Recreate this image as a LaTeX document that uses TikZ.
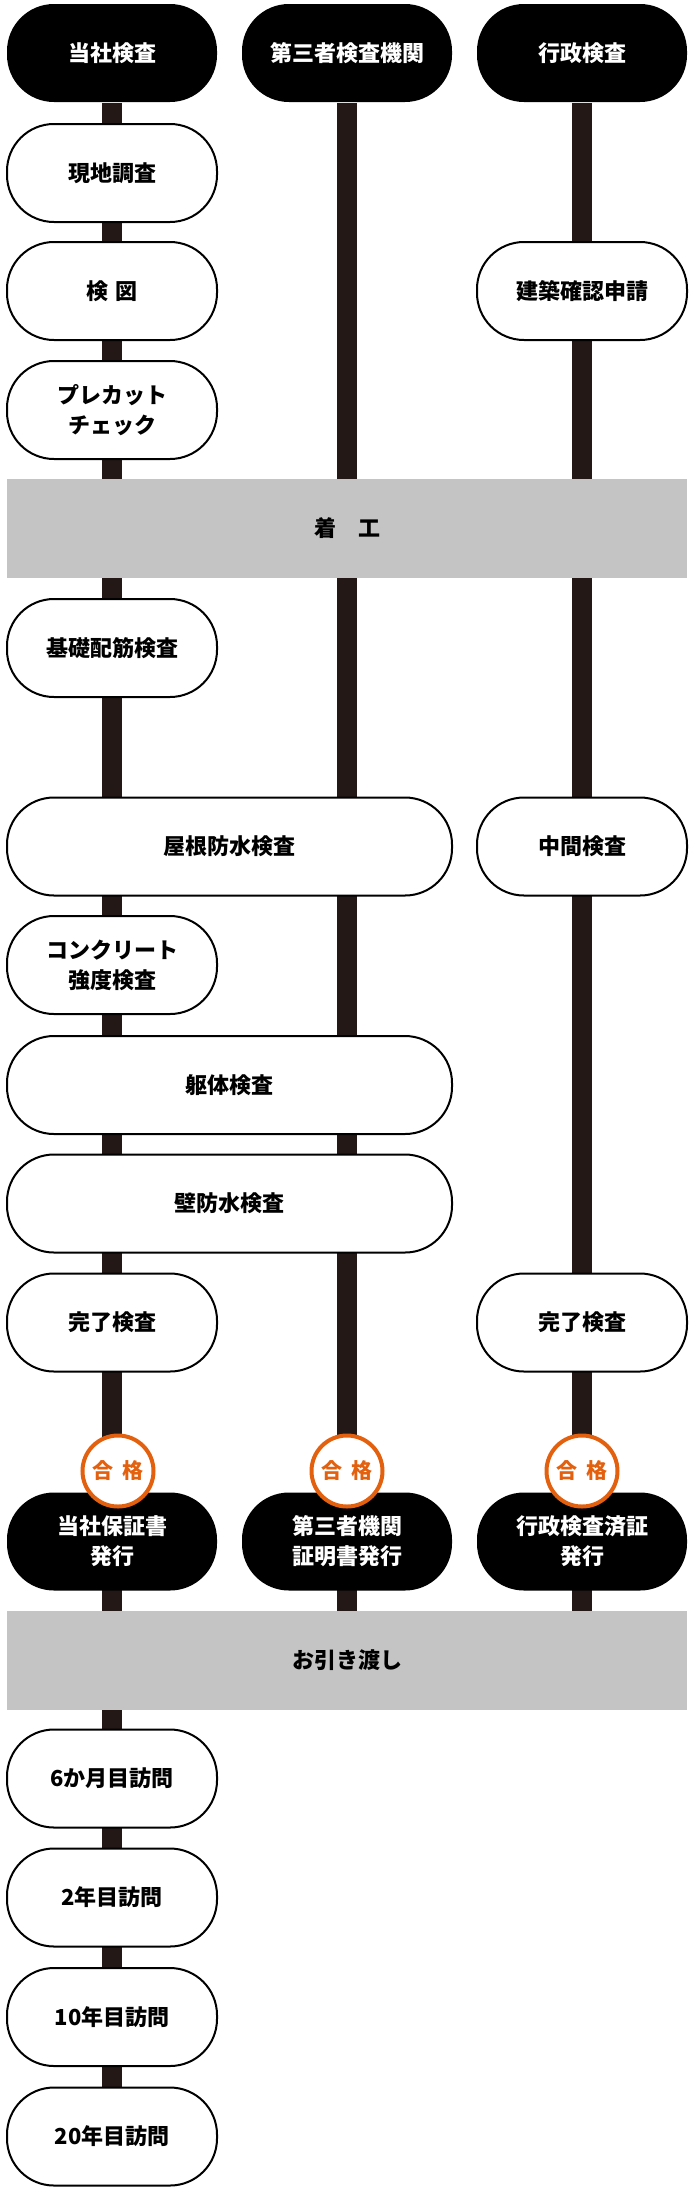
\documentclass[tikz,border=0pt]{standalone}
\usepackage{fontspec}
\setmainfont{Noto Sans CJK JP}
\usepackage{tikz}
\usetikzlibrary{backgrounds}
\definecolor{barbrown}{HTML}{231815}
\definecolor{passorange}{HTML}{E3600F}
\definecolor{bandgray}{HTML}{C4C4C4}
\tikzstyle{box}=[draw=black,line width=2pt,fill=white,rounded corners=47pt,
                minimum width=210pt,minimum height=98pt,inner sep=0pt,align=center,
                font=\fontsize{22}{30}\selectfont\bfseries]
\tikzstyle{wide box}=[box,minimum width=445pt]
\tikzstyle{head}=[box,draw=none,fill=black,text=white]
\tikzstyle{band}=[fill=bandgray,minimum width=680pt,minimum height=99pt,inner sep=0pt,
                font=\fontsize{22}{30}\selectfont\bfseries]
\tikzstyle{pass}=[circle,draw=passorange,line width=4pt,fill=white,text=passorange,
                minimum size=71pt,inner sep=0pt,font=\fontsize{21}{21}\selectfont\bfseries]
\tikzstyle{bar}=[line width=20pt,draw=barbrown]

\begin{document}
\begin{tikzpicture}[x=1pt,y=-1pt]
\useasboundingbox (0,0) rectangle (690,2190);
% heads
\node (h1) at (112,53)[head] {当社検査};
\node (h2) at (347,53)[head] {第三者検査機関};
\node (h3) at (582,53)[head] {行政検査};
% before construction
\node (survey) at (112,173)[box] {現地調査};
\node (drawing) at (112,291)[box] {検\hspace{0.35em}図};
\node (permit) at (582,291)[box] {建築確認申請};
\node (precut) at (112,410)[box] {プレカット\\チェック};
\node (start) at (347,528.5)[band] {着\hspace{1em}工};
% during construction
\node (rebar) at (112,648)[box] {基礎配筋検査};
\node (roof) at (229.5,846.5)[wide box] {屋根防水検査};
\node (interim) at (582,846.5)[box] {中間検査};
\node (concrete) at (112,965)[box] {コンクリート\\強度検査};
\node (frame) at (229.5,1085)[wide box] {躯体検査};
\node (wall) at (229.5,1203.5)[wide box] {壁防水検査};
\node (done1) at (112,1322.5)[box] {完了検査};
\node (done3) at (582,1322.5)[box] {完了検査};
% results
\node (r1) at (112,1541.5)[head] {当社保証書\\発行};
\node (r2) at (347,1541.5)[head] {第三者機関\\証明書発行};
\node (r3) at (582,1541.5)[head] {行政検査済証\\発行};
\node (p1) at (118,1471)[pass] {合\hspace{0.4em}格};
\node (p2) at (347,1471)[pass] {合\hspace{0.4em}格};
\node (p3) at (582,1471)[pass] {合\hspace{0.4em}格};
\node (handover) at (347,1660.5)[band] {お引き渡し};
% after handover
\node (v6m) at (112,1778.5)[box] {6か月目訪問};
\node (v2) at (112,1897.5)[box] {2年目訪問};
\node (v10) at (112,2017)[box] {10年目訪問};
\node (v20) at (112,2136.5)[box] {20年目訪問};
\begin{scope}[on background layer]
\draw[bar] (h1) -- (v20);
\draw[bar] (h2) -- (h2 |- handover);
\draw[bar] (h3) -- (h3 |- handover);
\end{scope}
\end{tikzpicture}
\end{document}
